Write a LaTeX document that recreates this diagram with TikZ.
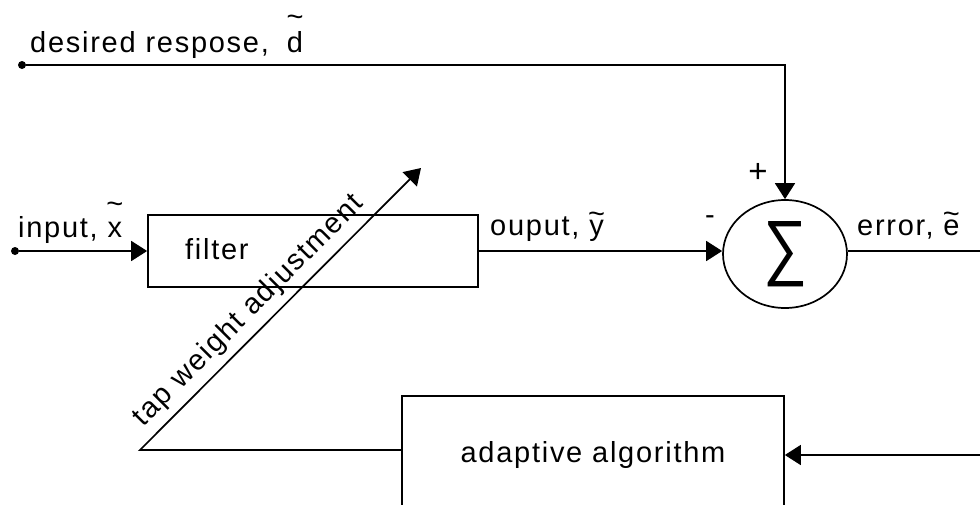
\documentclass[tikz,border=0pt]{standalone}
\usepackage{fontspec}
\setmainfont{Liberation Sans}[LetterSpace=6]
\usepackage{graphicx}
\usetikzlibrary{arrows.meta,shapes.geometric}
\newcommand\hitilde[2]{\ooalign{#1\cr\hidewidth\raisebox{#2}{\char"007E}\hidewidth\cr}}
\tikzset{
  wire/.style={line width=1.7pt},
  arr/.style={wire,-{Triangle[length=16pt,width=20pt]}},
  dotnode/.style={circle,fill=black,inner sep=0pt,minimum size=8pt},
  lbl/.style={inner sep=0pt,font=\fontsize{29}{34}\selectfont},
  boxnode/.style={draw,line width=1.7pt,inner sep=0pt},
}
\begin{document}
\begin{tikzpicture}[x=1pt,y=-1pt]
\useasboundingbox (0,0) rectangle (980,504);
\clip (0,0) rectangle (980,504);
% nodes
\node[dotnode] (din) at (22,65) {};
\node[dotnode] (xin) at (15,251) {};
\node[boxnode,minimum width=330pt,minimum height=72pt] (filter) at (313,251) {};
\node[lbl,anchor=base west] (filtertxt) at (185,259) {filter};
\node[draw,ellipse,line width=1.7pt,inner sep=0pt,minimum width=124pt,minimum height=108pt] (sum) at (785,254)
  {\resizebox{44pt}{50pt}{∑}};
\node[boxnode,lbl,minimum width=382pt,minimum height=118pt] (adapt) at (593,455) {adaptive algorithm};
\coordinate (eout) at (980,251);
\coordinate (fbin) at (980,455);
\coordinate (corner) at (140,450);
\coordinate (tip) at (421,168);
% labels
\node[lbl,anchor=base west] (ld) at (30,52) {desired respose,\hspace{18pt}\hitilde{d}{26pt}};
\node[lbl,anchor=base west] (lx) at (18,237) {input, \hitilde{x}{24pt}};
\node[lbl,anchor=base west] (ly) at (490,235) {ouput, \hitilde{y}{12pt}};
\node[lbl,anchor=base west] (le) at (857,235) {error, \hitilde{e}{12pt}};
\node[lbl,font=\fontsize{33}{36}\selectfont] (plus) at (758,173) {+};
\node[lbl] (minus) at (710,220) {-};
% connectors
\draw[arr] (din) -| (sum.north);
\draw[arr] (xin) -- (filter.west);
\draw[arr] (filter.east) -- (filter.east -| sum.west);
\draw[wire] (sum.east |- filter.east) -- (eout);
\draw[arr] (fbin) -- (adapt.east);
\draw[arr] (adapt.west |- corner) -- (corner) -- node[lbl,sloped,above=7pt,pos=0.44] (ltap) {tap weight adjustment} (tip);
\end{tikzpicture}
\end{document}
